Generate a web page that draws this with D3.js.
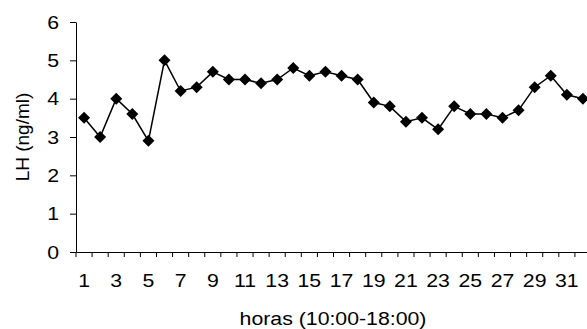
<!DOCTYPE html>
<html>
<head>
<meta charset="utf-8">
<script src="https://cdn.jsdelivr.net/npm/d3@7"></script>
<style>
  html, body { margin: 0; padding: 0; background: #fff; }
  svg { display: block; font-family: Arial, 'Liberation Sans', sans-serif; }
</style>
</head>
<body>
<div id="chart"></div>
<script>
const categories = d3.range(1, 33)
const lhValues = [3.5, 3.0, 4.0, 3.6, 2.9, 5.0, 4.2, 4.3, 4.7, 4.5,
  4.5, 4.4, 4.5, 4.8, 4.6, 4.7, 4.6, 4.5, 3.9, 3.8,
  3.4, 3.5, 3.2, 3.8, 3.6, 3.6, 3.5, 3.7, 4.3, 4.6,
  4.1, 4.0]
const yTicks = [0, 1, 2, 3, 4, 5, 6]
const xLabels = categories.filter((d) => d % 2 === 1)

const width = 587
const height = 329
const margin = { top: 22, right: -4, bottom: 77, left: 76 }
const innerW = width - margin.left - margin.right
const innerH = height - margin.top - margin.bottom
const fontSize = 19
const stretch = 'scale(1.12,1)'

const svg = d3.select('#chart').append('svg')
  .attr('width', width)
  .attr('height', height)
  .attr('viewBox', `0 0 ${width} ${height}`)

const g = svg.append('g').attr('transform', `translate(${margin.left},${margin.top})`)

const x = d3.scaleBand().domain(categories).range([0, innerW])
const y = d3.scaleLinear().domain([0, 6]).range([innerH, 0])

// y axis
const yAxis = g.append('g')
  .call(d3.axisLeft(y).tickValues(yTicks).tickFormat(d3.format('d')).tickSize(6).tickSizeOuter(0).tickPadding(9))
yAxis.select('.domain').attr('stroke', '#000')
yAxis.selectAll('.tick line').attr('stroke', '#000')
yAxis.selectAll('text').attr('font-size', fontSize).attr('fill', '#000')
  .attr('font-family', 'Arial, Liberation Sans, sans-serif').attr('transform', stretch)

// x axis: labels centred in bands, ticks at band edges
const xAxis = g.append('g').attr('transform', `translate(0,${innerH})`)
  .call(d3.axisBottom(x).tickValues(xLabels).tickSize(0).tickPadding(22))
xAxis.select('.domain').attr('stroke', '#000')
xAxis.selectAll('text').attr('font-size', fontSize).attr('fill', '#000')
  .attr('font-family', 'Arial, Liberation Sans, sans-serif').attr('transform', stretch)

const edges = categories.map((d) => x(d)).concat([x(categories[categories.length - 1]) + x.bandwidth()])
g.append('g').selectAll('line')
  .data(edges)
  .join('line')
  .attr('x1', (d) => d)
  .attr('x2', (d) => d)
  .attr('y1', innerH)
  .attr('y2', innerH + 5)
  .attr('stroke', '#000')

// line
const line = d3.line()
  .x((d, i) => x(categories[i]) + x.bandwidth() / 2)
  .y((d) => y(d))

g.append('path').datum(lhValues)
  .attr('fill', 'none')
  .attr('stroke', '#000')
  .attr('stroke-width', 1.5)
  .attr('d', line)

const r = 6
g.selectAll('.marker').data(lhValues).join('path')
  .attr('class', 'marker')
  .attr('transform', (d, i) => `translate(${x(categories[i]) + x.bandwidth() / 2},${y(d)})`)
  .attr('d', `M0,${-r}L${r},0L0,${r}L${-r},0Z`)
  .attr('fill', '#000')

// axis titles
svg.append('text')
  .attr('transform', `translate(333,325) ${stretch}`)
  .attr('text-anchor', 'middle')
  .attr('font-size', fontSize)
  .text('horas (10:00-18:00)')

svg.append('text')
  .attr('transform', `translate(29,${margin.top + innerH / 2}) rotate(-90)`)
  .attr('text-anchor', 'middle')
  .attr('font-size', fontSize)
  .text('LH (ng/ml)')
</script>
</body>
</html>
